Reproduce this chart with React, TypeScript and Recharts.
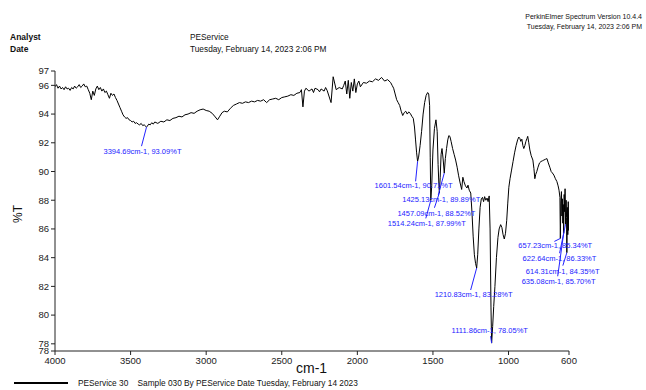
import React from 'react';
import { LineChart, Line, XAxis, YAxis, ReferenceDot } from 'recharts';

const FONT = '"Liberation Sans", Arial, sans-serif';
const BLUE = '#2323ff';

// [wavenumber cm-1, %T]
const spectrumHigh: [number, number][] = [
  [4000, 95.9], [3990, 96.05], [3980, 95.8], [3970, 95.95], [3960, 95.75], [3950, 95.85],
  [3940, 95.7], [3930, 95.9], [3920, 95.75], [3910, 95.8], [3900, 95.65], [3890, 95.85],
  [3880, 95.75], [3870, 95.95], [3860, 95.8], [3850, 95.9], [3840, 96.05], [3830, 95.85],
  [3820, 95.95], [3810, 96.1], [3800, 95.9], [3790, 95.95], [3780, 95.7], [3770, 95.45],
  [3760, 95.0], [3750, 95.6], [3740, 95.3], [3730, 95.75], [3720, 95.95], [3710, 95.7],
  [3700, 95.85], [3690, 95.6], [3680, 95.75], [3670, 95.5], [3660, 95.6], [3650, 95.35],
  [3640, 95.1], [3630, 95.45], [3620, 95.3], [3610, 95.4], [3600, 95.15], [3590, 94.95],
  [3580, 94.7], [3570, 94.45], [3560, 94.2], [3550, 93.95], [3540, 93.8], [3530, 93.7],
  [3520, 93.75], [3510, 93.6], [3500, 93.55], [3490, 93.45], [3480, 93.5], [3470, 93.35],
  [3460, 93.4], [3450, 93.3], [3440, 93.25], [3430, 93.35], [3420, 93.2], [3410, 93.25],
  [3394.69, 93.09], [3390, 93.15], [3380, 93.3], [3370, 93.25], [3360, 93.4], [3350, 93.3],
  [3340, 93.45], [3320, 93.35], [3300, 93.5], [3280, 93.45], [3260, 93.6], [3240, 93.55],
  [3220, 93.7], [3200, 93.75], [3180, 93.85], [3160, 93.8], [3140, 93.95], [3120, 94.0],
  [3100, 94.1], [3080, 94.05], [3060, 94.2], [3040, 94.3], [3020, 94.35], [3000, 94.25],
  [2980, 94.2], [2960, 94.05], [2940, 93.8], [2925, 93.6], [2910, 93.85], [2895, 94.1],
  [2880, 94.2], [2860, 94.15], [2840, 94.4], [2820, 94.6], [2800, 94.7], [2780, 94.8],
  [2760, 94.75], [2740, 94.85], [2720, 94.8], [2700, 94.9], [2680, 94.85], [2660, 94.95],
  [2640, 94.9], [2620, 95.0], [2600, 94.8], [2580, 95.0], [2560, 95.05], [2540, 95.1],
  [2520, 95.0], [2500, 95.15], [2480, 95.2], [2460, 95.25], [2440, 95.35], [2420, 95.3],
  [2400, 95.45], [2380, 95.5], [2370, 95.7], [2360, 94.5], [2350, 95.6], [2340, 95.8],
  [2320, 95.6], [2300, 95.75], [2290, 95.5], [2280, 95.8], [2260, 95.7], [2250, 95.55],
  [2240, 95.75], [2220, 95.6], [2210, 95.85], [2200, 95.65], [2174, 94.8], [2160, 96.6],
  [2140, 95.7], [2120, 95.85], [2100, 95.75], [2090, 96.0], [2080, 96.3], [2070, 95.4],
  [2060, 96.35], [2050, 95.1], [2040, 96.2], [2030, 95.6], [2020, 96.45], [2010, 95.5],
];

const spectrumMid: [number, number][] = [
  [2000, 96.1], [1990, 96.3], [1980, 95.9], [1960, 96.2], [1940, 96.15], [1920, 96.3],
  [1900, 96.25], [1880, 96.45], [1860, 96.35], [1840, 96.55], [1820, 96.3], [1800, 96.4],
  [1780, 96.2], [1770, 96.0], [1760, 95.8], [1750, 95.4], [1740, 95.0], [1730, 94.8],
  [1720, 94.6], [1710, 94.2], [1700, 93.9], [1690, 94.1], [1680, 94.2], [1670, 94.0],
  [1660, 94.15], [1650, 94.05], [1640, 93.85], [1630, 93.7], [1622, 93.1], [1615, 92.2],
  [1608, 91.3], [1601.54, 90.71], [1595, 91.0], [1585, 91.8], [1575, 92.8], [1565, 94.0],
  [1555, 94.8], [1545, 95.3], [1535, 95.5], [1528, 95.4], [1522, 94.6], [1518, 91.0],
  [1514.24, 87.99], [1508, 89.0], [1500, 91.5], [1490, 93.0], [1480, 93.6], [1472, 92.8],
  [1466, 90.5], [1460, 88.9], [1457.09, 88.52], [1452, 89.6], [1446, 91.2], [1440, 91.6],
  [1432, 90.8], [1425.13, 89.89], [1418, 90.9], [1410, 91.6], [1402, 92.2], [1395, 92.5],
  [1388, 92.45], [1380, 92.1], [1370, 91.6], [1360, 91.2], [1350, 90.8], [1340, 90.3],
  [1330, 89.7], [1320, 89.2], [1310, 88.75], [1302, 89.6], [1295, 89.3], [1285, 89.0],
  [1275, 88.85], [1268, 89.05], [1260, 88.7], [1250, 88.5], [1242, 87.2], [1234, 85.5],
  [1226, 84.2], [1218, 83.6], [1210.83, 83.28], [1204, 84.2], [1196, 86.0], [1188, 87.5],
  [1180, 88.1], [1172, 88.2], [1165, 87.9], [1158, 88.25], [1150, 88.0], [1142, 88.15],
  [1135, 87.9], [1128, 88.3], [1122, 86.0], [1116, 80.5], [1111.86, 78.05], [1105, 79.2],
  [1098, 80.6], [1090, 82.0], [1080, 84.0], [1070, 85.4], [1062, 86.0], [1052, 86.3],
  [1044, 86.1], [1036, 85.6], [1028, 85.3], [1020, 85.7], [1012, 86.6], [1005, 87.8],
];

const spectrumLow: [number, number][] = [
  [998, 88.9], [990, 89.5], [980, 90.1], [970, 90.7], [960, 91.3], [950, 91.8],
  [940, 92.2], [932, 92.4], [925, 92.3], [919, 92.1], [912, 92.25], [905, 91.8],
  [899, 91.6], [892, 91.8], [885, 92.1], [878, 92.3], [873, 92.45], [866, 92.0],
  [859, 91.5], [850, 91.1], [839, 90.8], [832, 90.2], [826, 89.5], [820, 89.8],
  [813, 90.0], [805, 90.3], [795, 90.6], [785, 90.7], [775, 90.75], [766, 90.8],
  [756, 90.85], [746, 90.9], [737, 90.6], [727, 90.3], [718, 90.0], [710, 89.9],
  [700, 89.75], [690, 89.5], [680, 89.3], [672, 89.0], [666, 88.7], [660, 88.2],
  [657.23, 85.34], [654, 87.8], [650, 88.6], [647, 86.9], [644, 88.1], [641, 86.4],
  [638, 87.7], [635.08, 85.7], [632, 88.4], [629, 87.2], [626, 88.8], [622.64, 86.33],
  [619, 88.0], [616, 86.8], [614.31, 84.35], [611, 87.5], [608, 85.6], [605, 87.9],
  [602, 85.9], [600, 86.6],
];

const xTicks = [4000, 3500, 3000, 2500, 2000, 1500, 1000, 600];
const yTicks = [77.5, 78, 80, 82, 84, 86, 88, 90, 92, 94, 96, 97];

const peakWn = [3394.69, 1601.54, 1425.13, 1457.09, 1514.24, 1210.83, 1111.86, 657.23, 622.64, 614.31, 635.08];
const peakT = [93.09, 90.71, 89.89, 88.52, 87.99, 83.28, 78.05, 85.34, 86.33, 84.35, 85.7];

// label placement relative to the peak: text start dx, baseline dy, leader end dx, dy
const labelOffsets = [
  [-43, 27, -5, 19], [-43, 27, -2, 20], [-42, 29, -6, 22], [-42, 23, -5, 15],
  [-43, 26, -5, 18], [-42, 29, -6, 22], [-40, -10, -1, -7], [-42, 10, -6, 3],
  [-43, 37, -6, 29], [-41, 21, -4, 13], [-42, 51, -6, 43],
];

const data = [...spectrumHigh, ...spectrumMid, ...spectrumLow].map(([wn, t]) => ({ wn, t }));

const PeakLabel = ({ cx, cy, text, off }: any) => {
  if (cx == null || cy == null) return null;
  return (
    <g>
      <line x1={cx} y1={cy} x2={cx + off[2]} y2={cy + off[3]} stroke={BLUE} strokeWidth={1} />
      <text x={cx + off[0]} y={cy + off[1]} fill={BLUE} fontSize={7.5} fontFamily={FONT}>
        {text}
      </text>
    </g>
  );
};

const txt = (left: number, top: number, size: number, content: string, extra: React.CSSProperties = {}) => (
  <div
    style={{
      position: 'absolute', left, top, fontSize: size, fontFamily: FONT, lineHeight: 1,
      color: '#111', whiteSpace: 'pre', ...extra,
    }}
  >
    {content}
  </div>
);

export default function App() {
  return (
    <div style={{ position: 'absolute', left: 0, top: 0, width: 646, height: 390, background: '#fff', overflow: 'hidden' }}>
      {txt(0, 13, 7, 'PerkinElmer Spectrum Version 10.4.4', { width: 642, textAlign: 'right' })}
      {txt(0, 22.5, 7, 'Tuesday, February 14, 2023 2:06 PM', { width: 642, textAlign: 'right' })}
      {txt(10, 32.5, 8.5, 'Analyst', { fontWeight: 'bold' })}
      {txt(10, 44.5, 8.5, 'Date', { fontWeight: 'bold' })}
      {txt(190, 32.5, 8.3, 'PEService')}
      {txt(190, 44.5, 8.3, 'Tuesday, February 14, 2023 2:06 PM')}

      <div style={{ position: 'absolute', left: 0, top: 0 }}>
        <LineChart width={646} height={390} data={data} margin={{ top: 71, right: 77, bottom: 14, left: 15 }}>
          <XAxis
            dataKey="wn"
            type="number"
            domain={[600, 4000]}
            reversed
            ticks={xTicks}
            interval={0}
            tickSize={4}
            height={25}
            stroke="#222"
            tick={{ fill: '#222', fontSize: 9.5, fontFamily: FONT }}
            allowDataOverflow
          />
          <YAxis
            type="number"
            domain={[77.5, 97]}
            ticks={yTicks}
            interval={0}
            tickSize={4}
            width={40}
            stroke="#222"
            tick={{ fill: '#222', fontSize: 9.5, fontFamily: FONT }}
            tickFormatter={(v: number) => String(Math.round(v))}
            allowDataOverflow
          />
          <Line type="linear" dataKey="t" stroke="#000" strokeWidth={1} dot={false} isAnimationActive={false} />
          {peakWn.map((wn, i) => (
            <ReferenceDot
              key={wn}
              x={wn}
              y={peakT[i]}
              r={0}
              ifOverflow="visible"
              shape={(p: any) => (
                <PeakLabel cx={p.cx} cy={p.cy} off={labelOffsets[i]} text={`${wn.toFixed(2)}cm-1, ${peakT[i].toFixed(2)}%T`} />
              )}
            />
          ))}
        </LineChart>
      </div>

      {txt(9, 208, 12, '%T', { transform: 'rotate(-90deg)', transformOrigin: 'center' })}
      {txt(296, 361, 14, 'cm-1')}
      <div style={{ position: 'absolute', left: 14, top: 382, width: 54, height: 1.5, background: '#000' }} />
      {txt(78, 379, 8.3, 'PEService 30    Sample 030 By PEService Date Tuesday, February 14 2023')}
    </div>
  );
}
